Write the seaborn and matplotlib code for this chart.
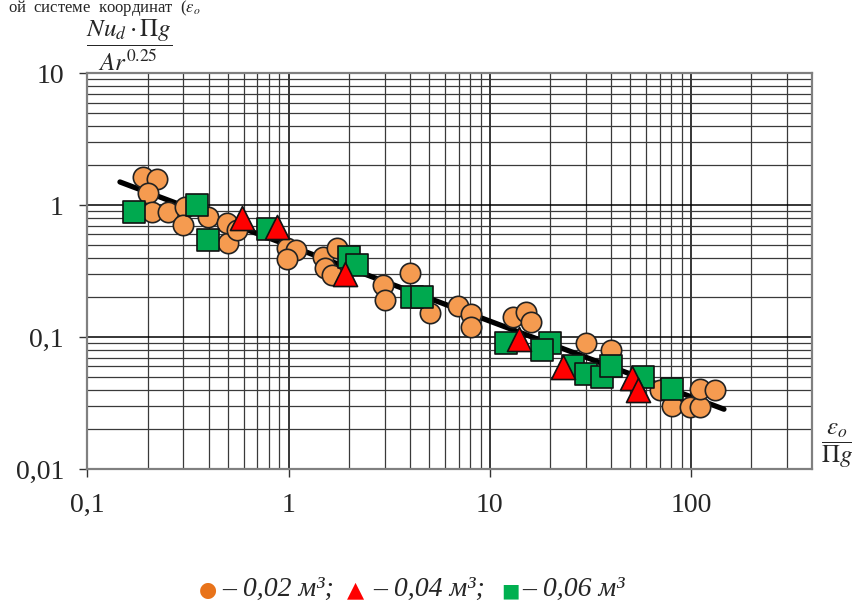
import numpy as np
import matplotlib
matplotlib.use('Agg')
import matplotlib.pyplot as plt
import seaborn as sns
from matplotlib.ticker import LogLocator, NullFormatter

# values (log-log chart)
circle_x = [0.189, 0.222, 0.200, 0.209, 0.252, 0.306, 0.299, 0.398, 0.500, 0.494,
            0.554, 0.983, 1.09, 0.983, 1.49, 1.74, 1.52, 1.65, 2.95, 3.02,
            4.02, 5.06, 6.97, 8.09, 8.09, 13.1, 15.2, 16.1, 30.2, 40.2,
            70.5, 80.9, 99.4, 111.5, 111.5, 132.4]
circle_y = [1.64, 1.58, 1.24, 0.89, 0.89, 0.97, 0.71, 0.815, 0.518, 0.734,
            0.65, 0.475, 0.459, 0.392, 0.406, 0.475, 0.335, 0.296, 0.249, 0.192,
            0.307, 0.153, 0.173, 0.150, 0.120, 0.1425, 0.1555, 0.131, 0.0905, 0.080,
            0.040, 0.0302, 0.0296, 0.0296, 0.0406, 0.040]

tri_x = [0.587, 0.877, 1.91, 14.0, 23.2, 51.2, 54.8]
tri_y = [0.80, 0.685, 0.302, 0.097, 0.0596, 0.0492, 0.040]

sq_x = [0.170, 0.351, 0.398, 0.791, 2.0, 2.19, 4.11, 4.62, 12.08, 20.0,
        18.2, 26.0, 30.2, 36.3, 40.2, 58.0, 80.9]
sq_y = [0.89, 1.005, 0.546, 0.661, 0.406, 0.353, 0.202, 0.202, 0.0905, 0.0905,
        0.080, 0.0606, 0.0527, 0.050, 0.0606, 0.050, 0.0406]

# approximating line, two end points
fit_x = [0.145, 146]
fit_y = [1.50, 0.0284]

x_ticks = [0.1, 1, 10, 100]
x_labels = ['0,1', '1', '10', '100']
y_ticks = [0.01, 0.1, 1, 10]
y_labels = ['0,01', '0,1', '1', '10']

sns.set_style('white')
plt.rcParams['font.family'] = ['Liberation Serif', 'DejaVu Serif']
plt.rcParams['mathtext.fontset'] = 'stix'

W, H = 853, 606
fig = plt.figure(figsize=(W / 100, H / 100), dpi=100)
ax = fig.add_axes([87.5 / W, 1 - 469 / H, (812 - 87.5) / W, (469 - 73.3) / H])
ax.set_xscale('log')
ax.set_yscale('log')

sns.lineplot(x=fit_x, y=fit_y, color='black', linewidth=3.8, ax=ax, zorder=3)
sns.scatterplot(x=circle_x, y=circle_y, marker='o', s=215, color='#F59B50',
                edgecolor='#222222', linewidth=1.2, ax=ax, zorder=4)
sns.scatterplot(x=sq_x, y=sq_y, marker='s', s=230, color='#00A94F',
                edgecolor='#111111', linewidth=1.2, ax=ax, zorder=5)
sns.scatterplot(x=tri_x, y=tri_y, marker='^', s=300, color='#FF0000',
                edgecolor='#111111', linewidth=1.2, ax=ax, zorder=6)

ax.set_xlim(0.1, 400)
ax.set_ylim(0.01, 10)
ax.set_xticks(x_ticks)
ax.set_xticklabels(x_labels)
ax.set_yticks(y_ticks)
ax.set_yticklabels(y_labels)
ax.xaxis.set_minor_locator(LogLocator(base=10, subs=np.arange(2, 10) * 1.0, numticks=30))
ax.yaxis.set_minor_locator(LogLocator(base=10, subs=np.arange(2, 10) * 1.0, numticks=30))
ax.xaxis.set_minor_formatter(NullFormatter())
ax.yaxis.set_minor_formatter(NullFormatter())

ax.set_axisbelow(True)
ax.grid(which='major', color='black', linewidth=1.1)
ax.grid(which='minor', color='#3a3a3a', linewidth=0.9)
ax.tick_params(which='major', direction='out', length=6, width=1, color='#333333',
               labelsize=20, pad=11, bottom=True, left=True)
ax.tick_params(which='minor', length=0)
for sp in ax.spines.values():
    sp.set_color('#808080')
    sp.set_linewidth(1.6)
ax.set_xlabel('')
ax.set_ylabel('')

# axis titles as fractions
fig.text(129 / W, 1 - 45 / H, r'$\dfrac{Nu_d\cdot\Pi g}{Ar^{0.25}}$',
         fontsize=18, ha='center', va='center')
fig.text(837 / W, 1 - 446 / H, r'$\dfrac{\varepsilon_o}{\Pi g}$',
         fontsize=18, ha='center', va='center')

# line of text at the very top (only partly seen in the source)
fig.text(8 / W, 1 - 12 / H, 'ой  системе  координат  (' + r'$\varepsilon_o$',
         fontsize=12, va='baseline')

# legend line at the bottom
base = 1 - 596 / H
fig.text(199 / W, base, '●', fontsize=15, color='#E8731A', va='baseline',
         family='DejaVu Sans')
fig.text(222 / W, base, '– 0,02 м³;', fontsize=20, style='italic', va='baseline')
fig.text(347 / W, base, '▲', fontsize=16, color='#FF0000', va='baseline',
         family='DejaVu Sans')
fig.text(373 / W, base, '– 0,04 м³;', fontsize=20, style='italic', va='baseline')
fig.text(501 / W, base, '■', fontsize=14, color='#00B050', va='baseline',
         family='DejaVu Sans')
fig.text(522 / W, base, '– 0,06 м³', fontsize=20, style='italic', va='baseline')

fig.savefig('out.png', dpi=100)
